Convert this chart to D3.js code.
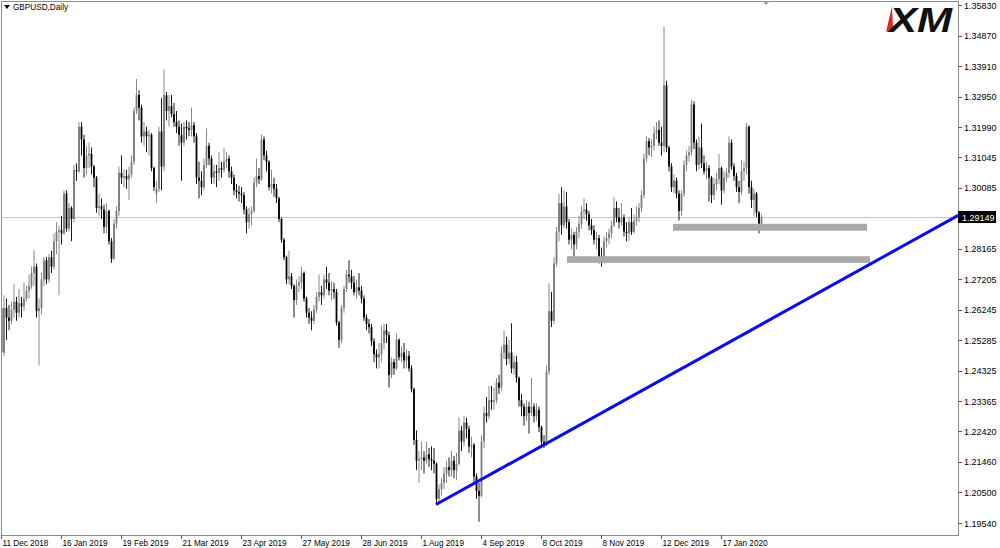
<!DOCTYPE html>
<html><head><meta charset="utf-8">
<script src="https://cdn.jsdelivr.net/npm/d3@7"></script>
<style>body{margin:0;background:#fff;overflow:hidden}svg{display:block}</style>
</head><body>
<script>
// ---------- data ----------
const symbolTitle = "GBPUSD,Daily";
const priceTicks = [1.35830,1.34870,1.33910,1.32950,1.31990,1.31045,1.30085,1.28165,1.27205,1.26245,1.25285,1.24325,1.23365,1.22420,1.21460,1.20500,1.19540];
const lastPrice = 1.29149;
const dateLabels = ["11 Dec 2018","16 Jan 2019","19 Feb 2019","21 Mar 2019","23 Apr 2019","27 May 2019","28 Jun 2019","1 Aug 2019","4 Sep 2019","8 Oct 2019","8 Nov 2019","12 Dec 2019","17 Jan 2020"];
const dateLabelBars = [0,24,48,72,96,120,144,168,192,216,240,264,288];

const opens = [
1.2630,1.2490,1.2630,1.2600,1.2590,1.2625,1.2650,1.2615,1.2645,1.2635,
1.2660,1.2685,1.2700,1.2740,1.2760,1.2620,1.2630,1.2720,1.2780,1.2720,
1.2790,1.2760,1.2840,1.2870,1.2875,1.2865,1.2990,1.2880,1.2945,1.2910,
1.3064,1.3060,1.3200,1.3160,1.3070,1.3110,1.3115,1.3075,1.3040,1.2945,
1.2950,1.2940,1.2885,1.2935,1.2840,1.2785,1.2895,1.2935,1.3055,1.3040,
1.3045,1.3035,1.3050,1.3090,1.3250,1.3300,1.3260,1.3170,1.3185,1.3170,
1.3175,1.3070,1.2990,1.3005,1.3185,1.3075,1.3300,1.3250,1.3265,1.3240,
1.3215,1.3200,1.3175,1.3150,1.3200,1.3195,1.3190,1.3205,1.3170,1.3040,
1.3030,1.3010,1.3080,1.3140,1.3100,1.3040,1.3060,1.3055,1.3070,1.3065,
1.3090,1.3100,1.3060,1.3040,1.3000,1.2995,1.2990,1.2985,1.2940,1.2900,
1.2925,1.2935,1.3025,1.3045,1.3035,1.3160,1.3110,1.3090,1.3010,1.3020,
1.3005,1.2975,1.2910,1.2845,1.2790,1.2720,1.2730,1.2700,1.2655,1.2700,
1.2710,1.2740,1.2660,1.2615,1.2600,1.2590,1.2625,1.2665,1.2680,1.2670,
1.2720,1.2710,1.2685,1.2690,1.2680,1.2585,1.2530,1.2630,1.2690,1.2735,
1.2730,1.2710,1.2680,1.2695,1.2685,1.2660,1.2600,1.2580,1.2570,1.2525,
1.2485,1.2475,1.2485,1.2520,1.2560,1.2545,1.2420,1.2460,1.2440,1.2530,
1.2475,1.2490,1.2465,1.2480,1.2440,1.2375,1.2215,1.2150,1.2155,1.2160,
1.2150,1.2170,1.2155,1.2150,1.2140,1.2030,1.2060,1.2080,1.2110,1.2130,
1.2120,1.2150,1.2120,1.2140,1.2245,1.2210,1.2270,1.2250,1.2195,1.2200,
1.2100,1.2055,1.2040,1.2210,1.2300,1.2290,1.2340,1.2335,1.2340,1.2395,
1.2380,1.2490,1.2515,1.2470,1.2490,1.2440,1.2460,1.2410,1.2340,1.2320,
1.2290,1.2320,1.2300,1.2320,1.2290,1.2310,1.2255,1.2210,1.2200,1.2430,
1.2620,1.2590,1.2770,1.2870,1.2960,1.2890,1.2950,1.2900,1.2845,1.2860,
1.2830,1.2870,1.2895,1.2935,1.2940,1.2925,1.2890,1.2875,1.2845,1.2850,
1.2790,1.2780,1.2840,1.2850,1.2865,1.2890,1.2945,1.2915,1.2900,1.2915,
1.2870,1.2865,1.2900,1.2870,1.2905,1.2915,1.2945,1.2985,1.3100,1.3155,
1.3135,1.3140,1.3180,1.3190,1.3150,1.3140,1.3330,1.3135,1.3075,1.3010,
1.3030,1.2990,1.2935,1.2990,1.3080,1.3110,1.3120,1.3270,1.3150,1.3080,
1.3135,1.3085,1.3060,1.3070,1.3040,1.2985,1.3020,1.3035,1.3070,1.3000,
1.3040,1.3055,1.3150,1.3075,1.3045,1.3010,1.2995,1.3060,1.3070,1.3200,
1.3010,1.2970,1.2990,1.2930,1.2895];

const highs = [
1.2660,1.2670,1.2660,1.2640,1.2650,1.2705,1.2665,1.2690,1.2665,1.2710,
1.2700,1.2735,1.2760,1.2812,1.2770,1.2660,1.2740,1.2790,1.2790,1.2800,
1.2810,1.2865,1.2900,1.2890,1.2920,1.3000,1.3000,1.2960,1.2950,1.3080,
1.3085,1.3215,1.3215,1.3175,1.3140,1.3150,1.3135,1.3080,1.3045,1.2990,
1.2975,1.2955,1.2960,1.2940,1.2850,1.2910,1.2950,1.3075,1.3110,1.3065,
1.3065,1.3075,1.3110,1.3260,1.3350,1.3315,1.3270,1.3215,1.3200,1.3190,
1.3180,1.3075,1.3030,1.3200,1.3290,1.3380,1.3310,1.3300,1.3300,1.3275,
1.3250,1.3220,1.3210,1.3215,1.3220,1.3215,1.3260,1.3215,1.3180,1.3090,
1.3060,1.3100,1.3195,1.3150,1.3110,1.3080,1.3080,1.3120,1.3090,1.3133,
1.3120,1.3110,1.3075,1.3050,1.3020,1.3015,1.3010,1.2995,1.2950,1.2945,
1.2950,1.3040,1.3100,1.3070,1.3175,1.3170,1.3125,1.3095,1.3065,1.3040,
1.3020,1.2980,1.2915,1.2850,1.2795,1.2810,1.2740,1.2705,1.2720,1.2730,
1.2760,1.2745,1.2665,1.2630,1.2620,1.2640,1.2680,1.2735,1.2700,1.2735,
1.2760,1.2740,1.2715,1.2710,1.2690,1.2590,1.2640,1.2700,1.2750,1.2780,
1.2750,1.2730,1.2720,1.2740,1.2700,1.2670,1.2610,1.2595,1.2580,1.2535,
1.2500,1.2520,1.2575,1.2580,1.2580,1.2555,1.2475,1.2470,1.2550,1.2535,
1.2510,1.2520,1.2500,1.2495,1.2450,1.2380,1.2245,1.2180,1.2210,1.2180,
1.2210,1.2190,1.2195,1.2190,1.2145,1.2075,1.2095,1.2130,1.2150,1.2160,
1.2180,1.2165,1.2175,1.2285,1.2260,1.2290,1.2285,1.2260,1.2225,1.2205,
1.2110,1.2080,1.2230,1.2320,1.2350,1.2385,1.2385,1.2380,1.2410,1.2420,
1.2510,1.2560,1.2540,1.2530,1.2582,1.2480,1.2480,1.2415,1.2360,1.2330,
1.2340,1.2335,1.2410,1.2330,1.2330,1.2320,1.2260,1.2230,1.2450,1.2708,
1.2680,1.2790,1.2885,1.2990,1.3010,1.3000,1.2995,1.2910,1.2880,1.2870,
1.2885,1.2920,1.2950,1.2975,1.2960,1.2935,1.2910,1.2890,1.2870,1.2860,
1.2820,1.2855,1.2870,1.2880,1.2905,1.2979,1.2965,1.2945,1.2960,1.2925,
1.2900,1.2915,1.2945,1.2925,1.2950,1.2960,1.3000,1.3115,1.3170,1.3165,
1.3160,1.3200,1.3215,1.3220,1.3200,1.3514,1.3345,1.3140,1.3085,1.3050,
1.3040,1.3000,1.3000,1.3095,1.3125,1.3140,1.3285,1.3280,1.3160,1.3170,
1.3210,1.3110,1.3090,1.3080,1.3045,1.3040,1.3055,1.3115,1.3075,1.3060,
1.3070,1.3170,1.3160,1.3085,1.3055,1.3030,1.3095,1.3090,1.3212,1.3205,
1.3030,1.3005,1.2995,1.2935,1.2925];

const lows = [
1.2475,1.2480,1.2530,1.2560,1.2580,1.2600,1.2590,1.2600,1.2600,1.2620,
1.2650,1.2660,1.2690,1.2700,1.2600,1.2450,1.2610,1.2700,1.2705,1.2710,
1.2740,1.2750,1.2800,1.2670,1.2830,1.2860,1.2870,1.2870,1.2840,1.2900,
1.3030,1.3055,1.3110,1.3040,1.3050,1.3070,1.3050,1.3010,1.2930,1.2920,
1.2910,1.2865,1.2865,1.2830,1.2772,1.2780,1.2880,1.2920,1.3020,1.3010,
1.3005,1.2970,1.3040,1.3080,1.3240,1.3220,1.3150,1.3140,1.3120,1.3110,
1.3060,1.2998,1.2960,1.2995,1.3000,1.3060,1.3220,1.3200,1.3230,1.3200,
1.3180,1.3140,1.3030,1.3140,1.3160,1.3170,1.3170,1.3150,1.3020,1.2975,
1.2985,1.3000,1.3070,1.3080,1.3020,1.3020,1.3010,1.3030,1.3040,1.3055,
1.3070,1.3040,1.3020,1.2985,1.2975,1.2965,1.2960,1.2925,1.2865,1.2880,
1.2890,1.2930,1.3010,1.3020,1.3030,1.3095,1.3060,1.3000,1.2990,1.2980,
1.2960,1.2900,1.2835,1.2780,1.2705,1.2705,1.2690,1.2600,1.2640,1.2680,
1.2690,1.2650,1.2600,1.2580,1.2560,1.2580,1.2615,1.2650,1.2640,1.2660,
1.2690,1.2670,1.2655,1.2660,1.2575,1.2505,1.2520,1.2615,1.2680,1.2710,
1.2690,1.2670,1.2660,1.2670,1.2645,1.2590,1.2560,1.2550,1.2510,1.2460,
1.2440,1.2440,1.2460,1.2500,1.2520,1.2380,1.2410,1.2420,1.2435,1.2465,
1.2460,1.2440,1.2440,1.2430,1.2365,1.2200,1.2120,1.2080,1.2120,1.2110,
1.2140,1.2130,1.2120,1.2110,1.2012,1.2020,1.2040,1.2060,1.2080,1.2100,
1.2100,1.2095,1.2090,1.2135,1.2180,1.2195,1.2220,1.2175,1.2160,1.2080,
1.2030,1.1958,1.2035,1.2190,1.2270,1.2280,1.2310,1.2310,1.2330,1.2360,
1.2370,1.2470,1.2450,1.2455,1.2425,1.2420,1.2395,1.2320,1.2290,1.2260,
1.2275,1.2235,1.2290,1.2270,1.2275,1.2240,1.2195,1.2190,1.2195,1.2420,
1.2570,1.2580,1.2760,1.2840,1.2860,1.2880,1.2880,1.2830,1.2815,1.2790,
1.2815,1.2850,1.2880,1.2910,1.2905,1.2875,1.2860,1.2830,1.2815,1.2770,
1.2760,1.2770,1.2820,1.2830,1.2850,1.2885,1.2900,1.2880,1.2890,1.2855,
1.2840,1.2840,1.2860,1.2865,1.2890,1.2900,1.2930,1.2975,1.3090,1.3110,
1.3105,1.3125,1.3160,1.3140,1.3110,1.3120,1.3120,1.3060,1.2995,1.2990,
1.2975,1.2905,1.2920,1.2980,1.3060,1.3090,1.3110,1.3130,1.3060,1.3065,
1.3070,1.3050,1.3035,1.2965,1.2960,1.2970,1.3000,1.3020,1.2955,1.2990,
1.3025,1.3040,1.3065,1.3030,1.2995,1.2960,1.2985,1.3030,1.3050,1.2990,
1.2945,1.2920,1.2915,1.2865,1.2885];

const closes = [
1.2490,1.2630,1.2600,1.2590,1.2625,1.2650,1.2615,1.2645,1.2635,1.2660,
1.2685,1.2700,1.2740,1.2760,1.2620,1.2630,1.2720,1.2780,1.2720,1.2790,
1.2760,1.2840,1.2870,1.2875,1.2865,1.2990,1.2880,1.2945,1.2910,1.3064,
1.3060,1.3200,1.3160,1.3070,1.3110,1.3115,1.3075,1.3040,1.2945,1.2950,
1.2940,1.2885,1.2935,1.2840,1.2785,1.2895,1.2935,1.3055,1.3040,1.3045,
1.3035,1.3050,1.3090,1.3250,1.3300,1.3260,1.3170,1.3185,1.3170,1.3175,
1.3070,1.3010,1.3005,1.3185,1.3075,1.3300,1.3250,1.3265,1.3240,1.3215,
1.3200,1.3175,1.3150,1.3200,1.3195,1.3190,1.3205,1.3170,1.3040,1.3030,
1.3010,1.3080,1.3140,1.3100,1.3040,1.3060,1.3055,1.3070,1.3065,1.3090,
1.3100,1.3060,1.3040,1.3000,1.2995,1.2990,1.2985,1.2940,1.2900,1.2925,
1.2935,1.3025,1.3045,1.3035,1.3160,1.3110,1.3090,1.3010,1.3020,1.3005,
1.2975,1.2910,1.2845,1.2790,1.2720,1.2730,1.2700,1.2655,1.2700,1.2710,
1.2740,1.2660,1.2615,1.2600,1.2590,1.2625,1.2665,1.2680,1.2670,1.2720,
1.2710,1.2685,1.2690,1.2680,1.2585,1.2530,1.2630,1.2690,1.2735,1.2730,
1.2710,1.2680,1.2695,1.2685,1.2660,1.2600,1.2580,1.2570,1.2525,1.2485,
1.2475,1.2485,1.2520,1.2560,1.2545,1.2420,1.2460,1.2440,1.2530,1.2475,
1.2490,1.2465,1.2480,1.2440,1.2375,1.2215,1.2150,1.2155,1.2160,1.2150,
1.2170,1.2155,1.2150,1.2140,1.2030,1.2060,1.2080,1.2110,1.2130,1.2120,
1.2150,1.2120,1.2140,1.2245,1.2210,1.2270,1.2250,1.2195,1.2200,1.2100,
1.2055,1.2040,1.2210,1.2300,1.2290,1.2340,1.2335,1.2340,1.2395,1.2380,
1.2490,1.2515,1.2470,1.2490,1.2440,1.2460,1.2410,1.2340,1.2320,1.2290,
1.2320,1.2300,1.2320,1.2290,1.2310,1.2255,1.2210,1.2200,1.2430,1.2620,
1.2590,1.2770,1.2870,1.2960,1.2890,1.2950,1.2900,1.2845,1.2860,1.2830,
1.2870,1.2895,1.2935,1.2940,1.2925,1.2890,1.2875,1.2845,1.2850,1.2790,
1.2780,1.2840,1.2850,1.2865,1.2890,1.2945,1.2915,1.2900,1.2915,1.2870,
1.2865,1.2900,1.2870,1.2905,1.2915,1.2945,1.2985,1.3100,1.3155,1.3135,
1.3140,1.3180,1.3190,1.3150,1.3140,1.3330,1.3135,1.3075,1.3010,1.3030,
1.2990,1.2935,1.2990,1.3080,1.3110,1.3120,1.3270,1.3150,1.3080,1.3135,
1.3085,1.3060,1.3070,1.3040,1.2985,1.3020,1.3035,1.3070,1.3000,1.3040,
1.3055,1.3150,1.3075,1.3045,1.3010,1.2995,1.3060,1.3070,1.3200,1.3010,
1.2970,1.2990,1.2930,1.2895,1.29149];

// drawn objects (bar index / price)
const zoneFromBar = [268.8, 226.4];
const zoneToBar   = [346.4, 347.6];
const zoneTop     = [1.2895, 1.2793];
const zoneBottom  = [1.2873, 1.2772];
const trendBars   = [174, 304];
const trendPrices = [1.2012, 1.2578];

// ---------- layout ----------
const W = 1000, H = 548;
const L = 1, R = 958, T = 1, B = 535;
const svg = d3.select("body").append("svg").attr("width", W).attr("height", H)
  .style("font-family", "'Liberation Sans', Arial, sans-serif");

const x = d3.scaleLinear().domain([0, 1]).range([1, 3.5]);
const y = d3.scaleLinear().domain([1.19540, 1.35830]).range([523, 5]);

svg.append("rect").attr("width", W).attr("height", H).attr("fill", "#fff");

svg.append("defs").append("clipPath").attr("id", "plot")
  .append("rect").attr("x", L + 0.5).attr("y", T + 0.5).attr("width", R - L - 0.5).attr("height", B - T - 0.5);

const plot = svg.append("g").attr("clip-path", "url(#plot)");

// bid line
plot.append("line").attr("x1", L).attr("x2", R)
  .attr("y1", Math.round(y(lastPrice)) + 0.5).attr("y2", Math.round(y(lastPrice)) + 0.5)
  .attr("stroke", "#c8c8c8").attr("stroke-width", 1);

// candles
const data = closes.map((c, i) => ({ i, o: opens[i], h: highs[i], l: lows[i], c }));
const bull = "#7a7a7a", bear = "#000";
plot.selectAll("line.wick").data(data).join("line").attr("class", "wick")
  .attr("x1", d => x(d.i) + 0.5).attr("x2", d => x(d.i) + 0.5)
  .attr("y1", d => y(d.h)).attr("y2", d => y(d.l))
  .attr("stroke", d => d.c >= d.o ? bull : bear).attr("stroke-width", 0.9);
plot.selectAll("rect.body").data(data).join("rect").attr("class", "body")
  .attr("x", d => x(d.i) - 0.4).attr("width", 1.8)
  .attr("y", d => y(Math.max(d.o, d.c)))
  .attr("height", d => Math.max(1, Math.abs(y(d.o) - y(d.c))))
  .attr("fill", d => d.c >= d.o ? bull : bear);

// support zones
plot.selectAll("rect.zone").data(zoneTop).join("rect").attr("class", "zone")
  .attr("x", (d, k) => x(zoneFromBar[k]))
  .attr("width", (d, k) => x(zoneToBar[k]) - x(zoneFromBar[k]))
  .attr("y", (d, k) => y(zoneTop[k]))
  .attr("height", (d, k) => y(zoneBottom[k]) - y(zoneTop[k]))
  .attr("fill", "#a9a9a9");

// trend line (ray to the right)
const slope = (trendPrices[1] - trendPrices[0]) / (trendBars[1] - trendBars[0]);
const endBar = x.invert(R + 2);
plot.append("line")
  .attr("x1", x(trendBars[0])).attr("y1", y(trendPrices[0]))
  .attr("x2", x(endBar)).attr("y2", y(trendPrices[0] + slope * (endBar - trendBars[0])))
  .attr("stroke", "#0a0af0").attr("stroke-width", 3);

// frame
svg.append("rect").attr("x", L + 0.5).attr("y", T + 0.5).attr("width", R - L).attr("height", B - T)
  .attr("fill", "none").attr("stroke", "#8c8c8c");

// chart-shift marker
svg.append("path").attr("d", "M762,1 L770,1 L766,5 Z").attr("fill", "#a0a0a0");

// price axis
const pa = svg.append("g");
pa.selectAll("line").data(priceTicks).join("line")
  .attr("x1", R + 0.5).attr("x2", R + 4)
  .attr("y1", d => Math.round(y(d)) + 0.5).attr("y2", d => Math.round(y(d)) + 0.5)
  .attr("stroke", "#555");
pa.selectAll("text").data(priceTicks).join("text")
  .attr("x", 964).attr("y", d => y(d) + 3.5)
  .attr("font-size", 9).attr("fill", "#000")
  .text(d => d.toFixed(5));

// last price label
const ly = Math.round(y(lastPrice));
svg.append("rect").attr("x", R).attr("y", ly - 6).attr("width", 38).attr("height", 12).attr("fill", "#000");
svg.append("text").attr("x", 962).attr("y", ly + 3.5).attr("font-size", 9).attr("fill", "#fff").text(lastPrice.toFixed(5));

// date axis
const da = svg.append("g");
da.selectAll("line").data(dateLabelBars).join("line")
  .attr("x1", d => Math.round(x(d)) + 0.5).attr("x2", d => Math.round(x(d)) + 0.5)
  .attr("y1", B).attr("y2", B + 4).attr("stroke", "#555");
da.selectAll("text").data(dateLabels).join("text")
  .attr("x", (d, k) => x(dateLabelBars[k]) + 1.5).attr("y", 545.5)
  .attr("font-size", 8.2).attr("fill", "#000").text(d => d);

// title
svg.append("path").attr("d", "M4,5 L10,5 L7,9 Z").attr("fill", "#000");
svg.append("text").attr("x", 13).attr("y", 10).attr("font-size", 8.2).attr("fill", "#000").text(symbolTitle);

// XM logo
svg.append("path").attr("d", "M892,6 L886,32 L893,28 Z").attr("fill", "#e3232b");
svg.append("text").attr("x", 889).attr("y", 32).attr("font-size", 35).attr("font-weight", 900)
  .attr("font-style", "italic").attr("fill", "#111")
  .attr("textLength", 63).attr("lengthAdjust", "spacingAndGlyphs").text("XM");
</script>
</body></html>
